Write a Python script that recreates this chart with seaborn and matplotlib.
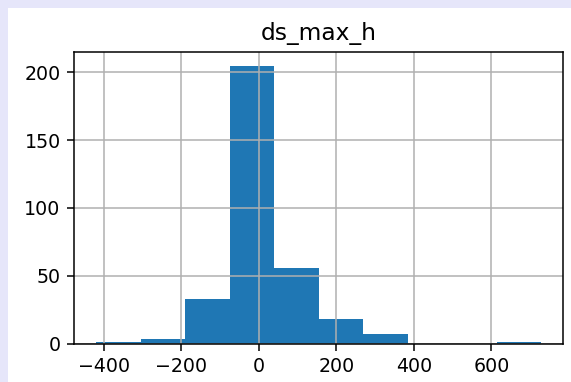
import matplotlib
matplotlib.use("Agg")
import matplotlib.pyplot as plt
import seaborn as sns
import pandas as pd
from matplotlib.patches import Rectangle

# Data (10 bins)
bin_lo = -420.0
bin_hi = 728.0
bin_mids = [-362.6, -247.8, -133.0, -18.2, 96.6, 211.4, 326.2, 441.0, 555.8, 670.6]
counts = [1, 3, 33, 205, 56, 18, 7, 0, 0, 1]
title = "ds_max_h"

df = pd.DataFrame({"ds_max_h": bin_mids, "n": counts})

DPI = 137
fig = plt.figure(figsize=(571 / DPI, 382 / DPI), dpi=DPI, facecolor="#e6e6fa")
fig.patches.append(Rectangle((8 / 571, 0), 1, 1 - 8 / 382, transform=fig.transFigure,
                             facecolor="white", edgecolor="none", zorder=-10))
ax = fig.add_axes([74 / 571, 1 - 343.5 / 382, (563.3 - 74) / 571, (343.5 - 51.7) / 382])
ax.set_zorder(1)

sns.histplot(data=df, x="ds_max_h", weights="n", bins=10, binrange=(bin_lo, bin_hi),
             color="#1f77b4", alpha=1, linewidth=0, edgecolor="none", ax=ax)

ax.set_axisbelow("line")
ax.grid(True, color="#b0b0b0", linewidth=0.8)
ax.set_xlabel("")
ax.set_ylabel("")
ax.set_title(title, fontsize=12.3)
ax.set_xticks([-400, -200, 0, 200, 400, 600])
ax.set_yticks([0, 50, 100, 150, 200])
ax.set_xlim(bin_lo - 0.05 * (bin_hi - bin_lo), bin_hi + 0.05 * (bin_hi - bin_lo))
ax.set_ylim(0, max(counts) * 1.05)
ax.tick_params(labelsize=10)

fig.savefig("out.png", dpi=DPI, facecolor=fig.get_facecolor())
